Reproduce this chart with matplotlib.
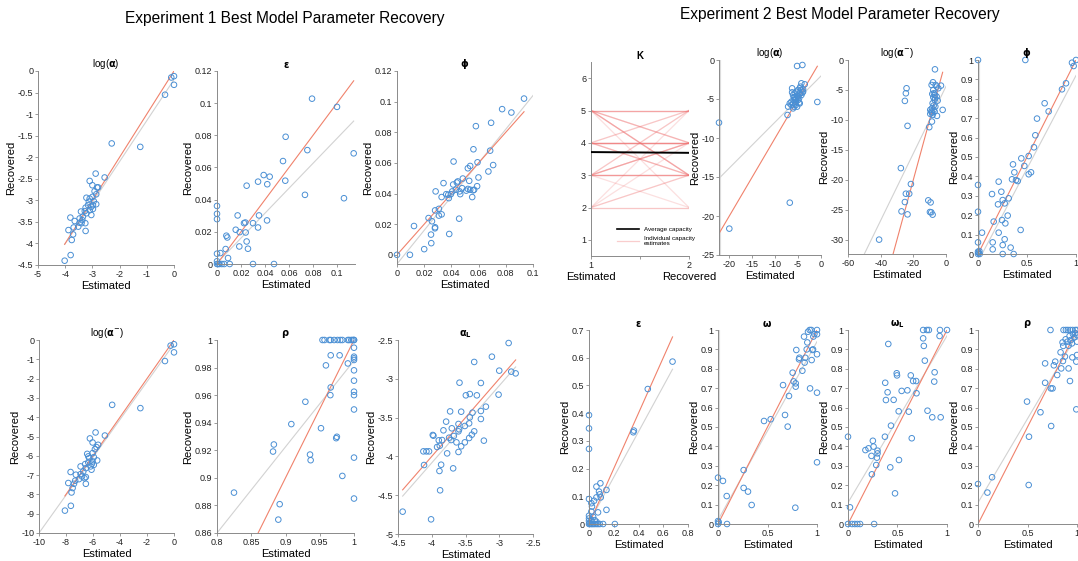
import numpy as np
import matplotlib
matplotlib.use("Agg")
import matplotlib.pyplot as plt
from matplotlib.lines import Line2D
from matplotlib.ticker import FuncFormatter

plt.rcParams['font.family'] = ['Liberation Sans', 'DejaVu Sans']
plt.rcParams['mathtext.fontset'] = 'dejavusans'

# ---------------- Experiment 1 ----------------
e1_log_alpha_est = [-0.1, 0, 0, -0.33, -2.29, -1.24, -2.88, -2.55, -3.1, -3.0, -2.83, -2.79, -2.92, -2.86,
                    -3.22, -3.0, -2.95, -3.13, -2.86, -2.98, -3.16, -3.04, -3.25, -2.98, -3.1, -3.28, -3.22,
                    -3.04, -3.42, -3.35, -3.47, -3.37, -3.26, -3.4, -3.47, -3.81, -3.65, -3.52, -3.69, -3.88,
                    -3.25, -3.71, -3.76, -3.8, -4.02, -3.1]
e1_log_alpha_rec = [-0.15, -0.12, -0.32, -0.55, -1.68, -1.76, -2.38, -2.47, -2.55, -2.65, -2.7, -2.7, -2.79, -2.86,
                    -2.94, -2.92, -3.02, -3.03, -3.09, -3.11, -3.11, -3.15, -3.17, -3.2, -3.23, -3.25, -3.3,
                    -3.34, -3.26, -3.38, -3.42, -3.46, -3.53, -3.53, -3.52, -3.4, -3.48, -3.61, -3.63, -3.69,
                    -3.71, -3.79, -3.92, -4.27, -4.4, -2.96]
e1_log_alpha_fit = (0.95, -0.2, -4.02, 0.0)

e1_eps_est = [0, 0, 0, 0, 0, 0, 0.001, 0.002, 0.004, 0.006, 0.0106, 0.030, 0.0475, 0.0028, 0.0072, 0.0092,
              0.0078, 0.0086, 0.0156, 0.0172, 0.0189, 0.0186, 0.0225, 0.0236, 0.0239, 0.0247, 0.0258, 0.0247,
              0.030, 0.0342, 0.035, 0.0342, 0.0389, 0.0419, 0.0439, 0.0417, 0.055, 0.0569, 0.0572, 0.0733,
              0.0753, 0.0792, 0.1, 0.1058, 0.1139]
e1_eps_rec = [0.0361, 0.0312, 0.0279, 0.0064, 0.0017, 0, 0, 0, 0, 0, 0, 0, 0, 0.0068, 0.0093, 0.0037,
              0.0176, 0.0165, 0.0213, 0.0302, 0.0198, 0.0109, 0.0254, 0.0258, 0.0196, 0.014, 0.0095, 0.0487,
              0.0254, 0.0227, 0.0302, 0.0512, 0.0553, 0.0496, 0.0543, 0.0271, 0.064, 0.0518, 0.0791, 0.043,
              0.0708, 0.1028, 0.0977, 0.0409, 0.0688]
e1_eps_fit = (0.775, 0.0006, 0.0, 0.1139)

e1_phi_est = [0, 0.0095, 0.0125, 0.02, 0.0232, 0.0257, 0.025, 0.0252, 0.028, 0.028, 0.0279, 0.0284, 0.0308,
              0.0308, 0.0328, 0.0328, 0.0342, 0.0362, 0.0377, 0.0381, 0.0384, 0.0396, 0.0406, 0.0413, 0.0416,
              0.0433, 0.044, 0.0447, 0.0457, 0.046, 0.0465, 0.0479, 0.0484, 0.0509, 0.0521, 0.0521, 0.0531,
              0.0538, 0.0538, 0.0553, 0.056, 0.0562, 0.0567, 0.058, 0.0592, 0.0589, 0.0599, 0.0672, 0.0685,
              0.0692, 0.0707, 0.0773, 0.0841, 0.0934]
e1_phi_rec = [0, 0, 0.0188, 0.0037, 0.024, 0.0219, 0.0132, 0.0076, 0.029, 0.018, 0.0173, 0.0414, 0.03,
              0.0256, 0.0264, 0.0377, 0.0468, 0.0396, 0.0392, 0.037, 0.0136, 0.0396, 0.0414, 0.0459, 0.0609,
              0.0425, 0.0472, 0.0479, 0.0236, 0.0414, 0.0396, 0.0435, 0.0498, 0.0419, 0.043, 0.0565, 0.0483,
              0.058, 0.0425, 0.0377, 0.0421, 0.0689, 0.0425, 0.084, 0.0604, 0.0448, 0.0505, 0.0544, 0.068,
              0.0862, 0.0586, 0.0951, 0.0929, 0.102]
e1_phi_fit = (1.1, -0.006, 0.0, 0.1)

e1_log_alpha_minus_est = [-0.25, 0, 0, -0.67, -4.58, -2.49, -5.12, -5.81, -6.23, -6.03, -5.62, -5.74, -5.86,
                          -6.43, -6.03, -5.94, -6.28, -5.69, -6.03, -6.35, -6.08, -6.58, -5.94, -6.18, -6.53,
                          -6.11, -6.92, -6.72, -6.92, -6.82, -6.53, -6.63, -7.04, -7.66, -7.27, -7.32, -7.41,
                          -6.53, -7.83, -7.51, -7.59, -7.64, -8.08, -6.35]
e1_log_alpha_minus_rec = [-0.29, -0.22, -0.64, -1.09, -3.36, -3.53, -4.95, -4.79, -5.1, -5.31, -5.43, -5.55,
                          -5.66, -5.9, -5.86, -6.07, -6.12, -6.24, -6.29, -6.34, -6.41, -6.43, -6.47, -6.55,
                          -6.64, -6.72, -6.55, -6.81, -6.95, -7.07, -7.1, -7.16, -7.21, -6.84, -6.98, -7.29,
                          -7.45, -7.45, -7.41, -7.67, -7.9, -8.59, -8.84, -6.03]
e1_log_alpha_minus_fit = (0.98, -0.2, -10.0, 0.0)

e1_rho_est = [0.954, 0.957, 0.964, 0.966, 0.971, 0.976, 0.98, 0.983, 0.991, 0.993, 0.996, 0.998, 1.0, 1.0,
              1.0, 0.966, 0.979, 1.0, 1.0, 1.0, 0.991, 0.959, 1.0, 1.0, 0.966, 1.0, 0.9655, 1.0, 0.929, 1.0,
              0.9085, 0.9518, 0.975, 0.974, 0.883, 0.8818, 0.9358, 0.9367, 1.0, 0.983, 0.8248, 1.0, 0.8915,
              0.8895]
e1_rho_rec = [1.0, 1.0, 1.0, 1.0, 1.0, 1.0, 1.0, 1.0, 1.0, 1.0, 1.0, 1.0, 1.0, 1.0,
              0.9944, 0.9889, 0.9889, 0.9879, 0.9867, 0.9855, 0.983, 0.9816, 0.978, 0.9705, 0.9656, 0.9625,
              0.96, 0.96, 0.9552, 0.9496, 0.939, 0.936, 0.9298, 0.9288, 0.9242, 0.9191, 0.9169, 0.9128,
              0.9147, 0.9014, 0.8893, 0.885, 0.8809, 0.8697]
e1_rho_fit = (0.625, 0.36, 0.8, 1.0)

e1_alpha_L_est = [-2.861, -3.109, -3.371, -3.0, -2.822, -2.757, -3.589, -3.272, -3.436, -3.495, -3.332, -3.01,
                  -3.198, -3.272, -3.564, -3.728, -3.396, -3.787, -3.272, -3.436, -3.446, -3.604, -3.51,
                  -3.594, -3.604, -3.827, -3.703, -3.371, -3.406, -3.985, -3.975, -3.673, -3.743, -3.713,
                  -3.847, -3.896, -3.446, -3.228, -3.634, -3.51, -3.564, -3.881, -3.921, -3.772, -3.604,
                  -4.124, -4.079, -4.04, -4.114, -3.861, -3.683, -3.886, -3.876, -4.431, -4.01]
e1_alpha_L_rec = [-2.539, -2.715, -2.783, -2.895, -2.908, -2.93, -3.05, -3.054, -3.196, -3.213, -3.213, -3.204,
                  -3.359, -3.415, -3.424, -3.42, -3.436, -3.552, -3.518, -3.497, -3.574, -3.582, -3.608,
                  -3.651, -3.677, -3.664, -3.638, -3.677, -3.72, -3.724, -3.733, -3.737, -3.759, -3.789,
                  -3.789, -3.793, -3.763, -3.797, -3.819, -3.819, -3.87, -3.862, -3.879, -3.961, -3.943,
                  -3.935, -3.935, -3.935, -4.111, -4.107, -4.154, -4.188, -4.437, -4.712, -4.811]
e1_alpha_L_fit = (0.994, -0.107, -4.431, -2.757)

# ---------------- Experiment 2 ----------------
# capacity K: (estimated, recovered, number of participants)
k_estimated = [5, 5, 5, 5, 4, 4, 4, 3, 3, 3, 3, 2, 2, 2, 2]
k_recovered = [5, 4, 3, 2, 4, 5, 3, 3, 5, 4, 2, 2, 3, 4, 5]
k_count = [4, 3, 4, 1, 7, 2, 3, 5, 2, 4, 1, 2, 2, 1, 1]

e2_log_alpha_est = [-5.22, -4.06, -4.28, -3.55, -4.49, -0.8, -22.25, -6.81, -20.0, -7.3, -7.17, -6.3, -6.3,
                    -6.09, -5.72, -5.36, -5.0, -4.64, -6.45, -6.09, -6.45, -5.94, -5.51, -5.36, -5.72, -5.22,
                    -5.0, -4.78, -5.51, -5.87, -5.22, -6.09, -4.64, -4.78, -4.28, -3.91, -3.91, -4.28, -4.06,
                    -4.64, -5.0, -5.58, -5.65, -5.94, -6.81]
e2_log_alpha_rec = [-0.77, -0.64, -2.99, -3.12, -3.42, -5.38, -8.03, -18.29, -21.62, -7.05, -5.98, -3.63, -4.15,
                    -4.49, -4.27, -4.06, -3.85, -4.27, -5.34, -5.56, -5.77, -5.13, -5.34, -4.91, -4.79, -4.62,
                    -5.13, -5.47, -5.77, -5.98, -5.98, -6.2, -5.56, -4.91, -4.49, -4.06, -3.76, -3.85, -4.19,
                    -3.63, -4.7, -5.04, -5.56, -4.79, -5.56]
e2_log_alpha_fit = (0.59, -2.05, -22.25, 0.0)

e2_log_alpha_minus_est = [-6.76, -7.98, -6.34, -3.07, -8.8, -5.73, -4.71, -24.16, -24.57, -25.18, -7.78, -7.37,
                          -8.39, -6.76, -7.78, -6.76, -5.73, -5.12, -6.96, -8.19, -7.58, -6.55, -8.6, -7.58,
                          -9.02, -9.63, -8.6, -6.96, -5.52, -2.05, -8.19, -9.63, -8.6, -10.24, -23.55, -27.64,
                          -21.49, -24.57, -22.52, -25.18, -27.23, -23.55, -10.85, -9.42, -9.83, -9.01, -8.19,
                          -40.95]
e2_log_alpha_minus_rec = [-1.56, -3.72, -4.17, -4.28, -4.17, -4.44, -4.72, -4.72, -5.56, -6.83, -5.0, -5.56,
                          -5.67, -5.83, -6.22, -6.39, -6.11, -6.78, -6.67, -7.22, -7.61, -7.78, -8.06, -8.33,
                          -8.61, -8.33, -8.78, -8.61, -9.33, -8.33, -9.17, -9.0, -10.28, -11.22, -11.0, -18.06,
                          -20.72, -22.33, -22.33, -23.72, -25.28, -25.78, -23.44, -23.78, -25.39, -25.44, -25.83,
                          -30.0]
e2_log_alpha_minus_fit = (0.56, -4.4, -60.0, 0.0)

e2_phi_est = [0, 0.483, 1.0, 0.959, 0.976, 0.898, 0.857, 0.68, 0.721, 0.602, 0.585, 0.571, 0.517, 0.442, 0.473,
              0.517, 0.541, 0.357, 0.371, 0.347, 0.388, 0.405, 0, 0, 0.211, 0.143, 0.238, 0.252, 0.313, 0.272,
              0.204, 0.303, 0.245, 0.279, 0.16, 0.041, 0.211, 0.435, 0.272, 0.15, 0.252, 0.333, 0.15, 0,
              0.252, 0.364, 0, 0.007, 0.017, 0, 0.014]
e2_phi_rec = [1.0, 1.0, 1.0, 0.986, 0.969, 0.88, 0.849, 0.777, 0.735, 0.698, 0.612, 0.55, 0.505, 0.493, 0.454,
              0.411, 0.421, 0.462, 0.421, 0.385, 0.381, 0.376, 0.356, 0.218, 0.373, 0.309, 0.321, 0.278, 0.287,
              0.261, 0.256, 0.198, 0.175, 0.158, 0.167, 0.11, 0.11, 0.124, 0.076, 0.06, 0.046, 0.033, 0.024,
              0.06, 0, 0, 0, 0.007, 0, 0.012, 0.015]
e2_phi_fit = (0.96, -0.04, 0.0, 1.0)

e2_eps_est = [0.675, 0.475, 0.363, 0.358, 0, 0, 0, 0, 0, 0, 0, 0.005, 0, 0.014, 0.024, 0.035, 0.046, 0.06,
              0.073, 0.087, 0.114, 0.209, 0.092, 0.06, 0.081, 0.087, 0.095, 0.141, 0.06, 0.041, 0.019, 0.024,
              0.073, 0.141, 0.019, 0.033, 0.046, 0.019, 0.06]
e2_eps_rec = [0.586, 0.487, 0.337, 0.331, 0.393, 0.345, 0.271, 0.09, 0.03, 0.02, 0.011, 0.002, 0, 0, 0, 0, 0,
              0, 0, 0, 0, 0, 0.147, 0.135, 0.117, 0.107, 0.096, 0.123, 0.096, 0.084, 0.075, 0.063, 0.042,
              0.051, 0.045, 0.026, 0.014, 0.014, 0.008]
e2_eps_fit = (0.82, 0.005, 0.0, 0.675)

e2_omega_est = [0, 0.05, 0.088, 0, 0.007, 0, 0.091, 0.259, 0.259, 0.303, 0.34, 0.465, 0.532, 0.657, 0.677,
                0.704, 0.717, 0.754, 0.764, 0.785, 0.785, 0.791, 0.781, 0.822, 0.818, 0.852, 0.869, 0.875,
                0.882, 0.896, 0.902, 0.909, 0.926, 0.943, 0.953, 0.946, 0.96, 0.963, 0.973, 1.0, 1.0, 1.0,
                1.0, 0.93, 1.0]
e2_omega_rec = [0.239, 0.222, 0.144, 0.015, 0.009, 0, 0, 0.278, 0.186, 0.167, 0.098, 0.531, 0.54, 0.716,
                0.562, 0.502, 0.66, 0.78, 0.735, 0.725, 0.708, 0.897, 0.084, 0.857, 0.849, 0.79, 0.966, 0.832,
                0.857, 0.9, 0.936, 0.991, 1.0, 1.0, 0.897, 0.845, 0.9, 0.966, 0.979, 1.0, 0.978, 0.875, 0.677,
                0.699, 0.318]
e2_omega_fit = (0.92, 0.02, 0.0, 1.0)

e2_omega_L_est = [0, 0.041, 0.068, 0.095, 0.122, 0.264, 0, 0.02, 0.176, 0.207, 0.237, 0.251, 0.258, 0.241,
                  0.285, 0.292, 0.298, 0.298, 0.376, 0.383, 0.4, 0.407, 0.373, 0.427, 0.434, 0.461, 0.475,
                  0.492, 0.495, 0.512, 0.515, 0.542, 0.6, 0.614, 0.634, 0.644, 0.658, 0.688, 0.692, 0.759,
                  0.759, 0.766, 0.776, 0.797, 0.817, 0.803, 0.851, 0.875, 0.871, 0.929, 0.925, 0.936, 1.0]
e2_omega_L_rec = [0, 0, 0, 0, 0, 0, 0.45, 0.086, 0.381, 0.39, 0.351, 0.429, 0.399, 0.256, 0.304, 0.342, 0.378,
                  0.364, 0.728, 0.639, 0.679, 0.928, 0.45, 0.292, 0.507, 0.64, 0.158, 0.777, 0.766, 0.581,
                  0.33, 0.686, 0.689, 0.579, 0.766, 0.442, 0.737, 0.737, 0.674, 1.0, 0.957, 0.918, 0.842, 1.0,
                  1.0, 0.584, 0.55, 0.782, 0.734, 1.0, 0.969, 0.55, 1.0]
e2_omega_L_fit = (0.86, 0.11, 0.0, 1.0)

e2_rho_est = [0, 0.095, 0.142, 0.495, 0.515, 0.512, 0.631, 0.678, 0.678, 0.732, 0.736, 0.753, 0.739, 0.78,
              0.766, 0.8, 0.841, 0.834, 0.854, 0.861, 0.858, 0.878, 0.864, 0.888, 0.908, 0.932, 0.956, 0.983,
              1.0, 0.885, 0.905, 0.915, 0.925, 0.936, 0.949, 0.959, 0.973, 0.983, 0.915, 0.929, 0.953, 0.993,
              1.0, 1.0, 0.993, 1.0]
e2_rho_rec = [0.206, 0.162, 0.241, 0.631, 0.45, 0.201, 0.576, 0.728, 0.828, 1.0, 0.699, 0.699, 0.505, 0.837,
              0.818, 0.768, 0.802, 0.885, 0.936, 0.918, 0.84, 0.863, 1.0, 1.0, 1.0, 1.0, 1.0, 1.0, 1.0, 0.952,
              0.94, 0.919, 0.969, 0.948, 0.931, 0.979, 0.962, 0.983, 0.802, 0.737, 0.859, 0.837, 0.871, 0.94,
              0.591, 0.974]
e2_rho_fit = (0.865, 0.11, 0.0, 1.0)

# ---------------- styling ----------------
W, H = 1078, 561
BLUE = '#4a8fd4'
SALMON = '#f0826c'
LIGHTGRAY = '#d2d2d2'
SPINE = '#8a8a8a'
TICKFS = 6.5
LABELFS = 8

fig = plt.figure(figsize=(W / 100, H / 100), dpi=100)


def make_axes(x0, x1, y_top, y_bot):
    return fig.add_axes([x0 / W, 1 - y_bot / H, (x1 - x0) / W, (y_bot - y_top) / H])


fmt = FuncFormatter(lambda v, p: '%g' % round(v, 6) if abs(v) > 1e-12 else '0')


def style(ax, xlim, ylim, xticks, yticks):
    ax.set_xlim(xlim)
    ax.set_ylim(ylim)
    ax.set_xticks(xticks)
    ax.set_yticks(yticks)
    ax.xaxis.set_major_formatter(fmt)
    ax.yaxis.set_major_formatter(fmt)
    for s in ('top', 'right'):
        ax.spines[s].set_visible(False)
    for s in ('left', 'bottom'):
        ax.spines[s].set_color(SPINE)
        ax.spines[s].set_linewidth(0.7)
    ax.tick_params(labelsize=TICKFS, colors='#222222', length=2, width=0.6, direction='out', pad=1.5)
    ax.tick_params(axis='both', color=SPINE)
    ax.set_facecolor('none')


def recovery_panel(ax, est, rec, fit, title, xlim, ylim, xticks, yticks, thick_left=False):
    style(ax, xlim, ylim, xticks, yticks)
    est = np.asarray(est, float)
    rec = np.asarray(rec, float)
    if thick_left:
        ax.axvline(xlim[0], color='#dcdcdc', lw=3.0, zorder=0.5)
    slope, icpt, fx0, fx1 = fit
    fx = np.array([fx0, fx1])
    ax.plot(fx, slope * fx + icpt, color=LIGHTGRAY, lw=0.8, zorder=1)
    ix = np.array([est.min(), est.max()])
    ax.plot(ix, ix, color=SALMON, lw=0.8, zorder=1.5)
    ax.scatter(est, rec, s=16, facecolors='none', edgecolors=BLUE, linewidths=0.7, zorder=2, clip_on=False)
    ax.set_title(title, fontsize=7, pad=2)
    ax.set_xlabel('Estimated', fontsize=LABELFS, labelpad=1.5)
    ax.set_ylabel('Recovered', fontsize=LABELFS, labelpad=1)


# Experiment 1 panels
ax = make_axes(38, 174, 71, 265)
recovery_panel(ax, e1_log_alpha_est, e1_log_alpha_rec, e1_log_alpha_fit, r'log($\mathbf{\alpha}$)',
               (-5, 0), (-4.5, 0), np.arange(-5, 0.1, 1), np.arange(-4.5, 0.01, 0.5))
ax = make_axes(217, 355, 71, 264)
recovery_panel(ax, e1_eps_est, e1_eps_rec, e1_eps_fit, r'$\mathbf{\epsilon}$',
               (0, 0.115), (0, 0.12), np.arange(0, 0.101, 0.02), np.arange(0, 0.121, 0.02))
ax = make_axes(397, 533, 71, 264)
recovery_panel(ax, e1_phi_est, e1_phi_rec, e1_phi_fit, r'$\mathbf{\phi}$',
               (0, 0.1), (-0.006, 0.12), np.arange(0, 0.101, 0.02), np.arange(0, 0.121, 0.02))
ax = make_axes(39, 174, 340, 533)
recovery_panel(ax, e1_log_alpha_minus_est, e1_log_alpha_minus_rec, e1_log_alpha_minus_fit,
               r'log($\mathbf{\alpha}^{-}$)', (-10, 0), (-10, 0), np.arange(-10, 0.1, 2), np.arange(-10, 0.1, 1))
ax = make_axes(217, 354, 340, 533)
recovery_panel(ax, e1_rho_est, e1_rho_rec, e1_rho_fit, r'$\mathbf{\rho}$',
               (0.8, 1), (0.86, 1), np.arange(0.8, 1.001, 0.05), np.arange(0.86, 1.001, 0.02))
ax = make_axes(398, 533, 340, 534)
recovery_panel(ax, e1_alpha_L_est, e1_alpha_L_rec, e1_alpha_L_fit, r'$\mathbf{\alpha}_{\mathbf{L}}$',
               (-4.5, -2.5), (-5, -2.5), np.arange(-4.5, -2.49, 0.5), np.arange(-5, -2.49, 0.5))

# Experiment 2: capacity panel
axk = make_axes(591, 689, 62, 256)
style(axk, (1, 2), (0.5, 6.5), [1, 1.5, 2], [1, 2, 3, 4, 5, 6])
axk.set_xticklabels(['1', '', '2'])
for e, r, n in zip(k_estimated, k_recovered, k_count):
    for _ in range(n):
        axk.plot([1, 2], [e, r], color='#f07070', alpha=0.22, lw=0.9, zorder=1)
k_est_all = np.repeat(k_estimated, k_count)
k_rec_all = np.repeat(k_recovered, k_count)
axk.plot([1, 2], [k_est_all.mean(), k_rec_all.mean()], color='black', lw=1.4, zorder=3)
axk.set_title('K', fontsize=7, fontweight='bold', pad=2)
axk.text(1, -0.08, 'Estimated', transform=axk.get_xaxis_transform(), ha='center', va='top', fontsize=LABELFS)
axk.text(2, -0.08, 'Recovered', transform=axk.get_xaxis_transform(), ha='center', va='top', fontsize=LABELFS)
handles = [Line2D([], [], color='black', lw=1.2),
           Line2D([], [], color='#f07070', alpha=0.35, lw=0.9)]
axk.legend(handles, ['Average capacity', 'Individual capacity\nestimates'], fontsize=4.5, frameon=False,
           loc='lower right', bbox_to_anchor=(1.12, 0.02), handlelength=3.5, handletextpad=0.8, labelspacing=0.6)

ax = make_axes(719, 821, 60, 255)
recovery_panel(ax, e2_log_alpha_est, e2_log_alpha_rec, e2_log_alpha_fit, r'log($\mathbf{\alpha}$)',
               (-22.25, 0), (-25, 0), np.arange(-20, 0.1, 5), np.arange(-25, 0.1, 5), thick_left=True)
ax = make_axes(848, 946, 60, 254)
recovery_panel(ax, e2_log_alpha_minus_est, e2_log_alpha_minus_rec, e2_log_alpha_minus_fit,
               r'log($\mathbf{\alpha}^{-}$)', (-60, 0), (-32.4, 0), np.arange(-60, 0.1, 20), np.arange(-30, 0.1, 5))
ax = make_axes(978, 1076, 60, 254)
recovery_panel(ax, e2_phi_est, e2_phi_rec, e2_phi_fit, r'$\mathbf{\phi}$',
               (0, 1), (0, 1), [0, 0.5, 1], np.arange(0, 1.001, 0.1), thick_left=True)
ax = make_axes(589, 688, 330, 524)
recovery_panel(ax, e2_eps_est, e2_eps_rec, e2_eps_fit, r'$\mathbf{\epsilon}$',
               (0, 0.8), (0, 0.7), np.arange(0, 0.801, 0.2), np.arange(0, 0.701, 0.1))
ax = make_axes(718, 817, 330, 524)
recovery_panel(ax, e2_omega_est, e2_omega_rec, e2_omega_fit, r'$\mathbf{\omega}$',
               (0, 1), (0, 1), [0, 0.5, 1], np.arange(0, 1.001, 0.1), thick_left=True)
ax = make_axes(848, 947, 330, 524)
recovery_panel(ax, e2_omega_L_est, e2_omega_L_rec, e2_omega_L_fit, r'$\mathbf{\omega}_{\mathbf{L}}$',
               (0, 1), (0, 1), [0, 0.5, 1], np.arange(0, 1.001, 0.1))
ax = make_axes(978, 1077, 330, 524)
recovery_panel(ax, e2_rho_est, e2_rho_rec, e2_rho_fit, r'$\mathbf{\rho}$',
               (0, 1), (0, 1), [0, 0.5, 1], np.arange(0, 1.001, 0.1))

fig.text(285 / W, 1 - 18 / H, 'Experiment 1 Best Model Parameter Recovery', ha='center', va='center', fontsize=11.2)
fig.text(840 / W, 1 - 15 / H, 'Experiment 2 Best Model Parameter Recovery', ha='center', va='center', fontsize=11.2)

fig.savefig('out.png', dpi=100)
